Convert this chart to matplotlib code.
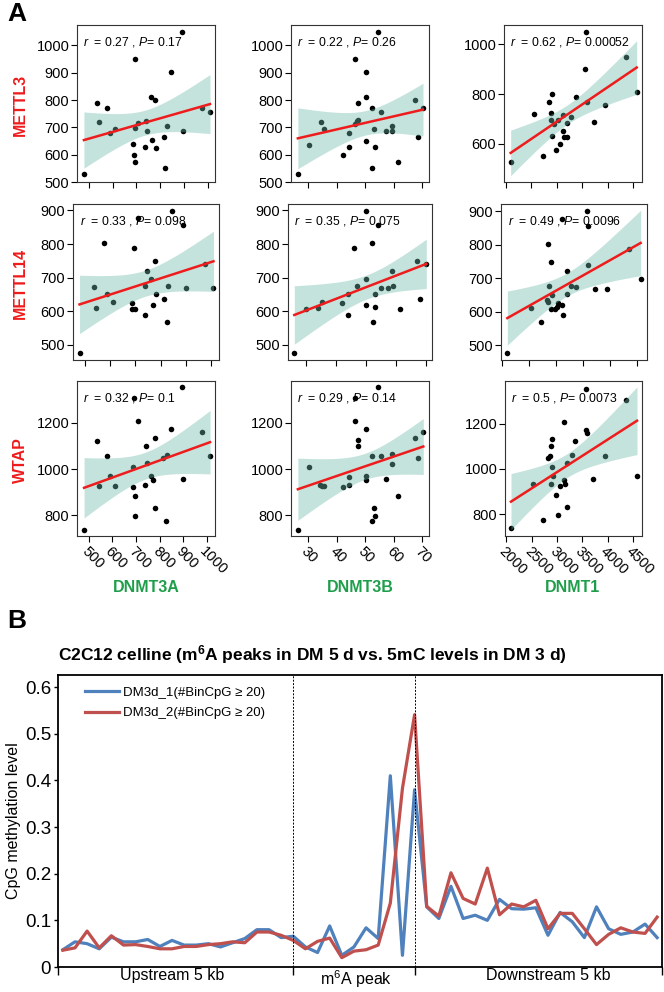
import numpy as np
import matplotlib.pyplot as plt

plt.rcParams['font.family'] = ['Liberation Sans', 'DejaVu Sans']
plt.rcParams['mathtext.fontset'] = 'custom'
plt.rcParams['mathtext.rm'] = 'Liberation Sans'
plt.rcParams['mathtext.it'] = 'Liberation Sans:italic'
plt.rcParams['mathtext.bf'] = 'Liberation Sans:bold'

# ---- panel A data (one list per panel) ----
row_names = ['METTL3', 'METTL14', 'WTAP']
col_names = ['DNMT3A', 'DNMT3B', 'DNMT1']

m3_3a_x = [480, 536, 543, 577, 591, 609, 686, 689, 692, 695, 695, 707, 735, 738, 745, 760, 767, 776, 780, 814, 821, 829, 843, 889, 896, 976, 1008]
m3_3a_y = [528, 791, 720, 771, 679, 694, 640, 599, 698, 574, 951, 716, 628, 724, 685, 812, 652, 801, 626, 665, 551, 704, 902, 1050, 685, 771, 756]
m3_3b_x = [26.3, 30.2, 34.3, 35.4, 42.2, 44.3, 44.3, 46.2, 46.2, 46.9, 47.3, 47.4, 50.2, 50.2, 50.2, 52.3, 52.4, 53.1, 53.2, 54.3, 55.3, 57.2, 59.3, 59.3, 61.3, 67.3, 68.3, 70.2]
m3_3b_y = [528, 634, 718, 694, 599, 679, 628, 951, 713, 722, 791, 726, 902, 811, 650, 771, 551, 695, 627, 1050, 756, 685, 704, 685, 574, 800, 665, 771]
m3_1_x = [2092, 2545, 2728, 2846, 2879, 2886, 2899, 2912, 2938, 2978, 3023, 3063, 3122, 3128, 3148, 3194, 3200, 3286, 3371, 3561, 3581, 3594, 3725, 3948, 4362, 4572]
m3_1_y = [526, 719, 552, 770, 723, 694, 633, 799, 680, 575, 694, 599, 714, 652, 629, 627, 683, 706, 790, 902, 1050, 770, 686, 754, 950, 810]

m14_3a_x = [477, 535, 544, 576, 588, 609, 687, 687, 695, 697, 711, 737, 740, 745, 761, 769, 779, 781, 815, 824, 831, 845, 889, 900, 979, 1011]
m14_3a_y = [475, 673, 611, 802, 650, 628, 626, 608, 787, 607, 878, 589, 676, 721, 697, 619, 750, 652, 637, 568, 676, 899, 856, 670, 741, 668]
m14_3b_x = [26.1, 30.1, 34.0, 35.2, 42.1, 44.1, 44.2, 46.2, 47.1, 49.9, 50.0, 50.0, 52.2, 52.3, 53.2, 53.2, 54.2, 55.2, 57.3, 58.9, 59.1, 61.4, 67.1, 68.2, 70.2]
m14_3b_y = [475, 607, 611, 628, 626, 588, 650, 787, 676, 697, 619, 899, 803, 568, 652, 612, 856, 668, 668, 721, 675, 608, 750, 637, 741]
m14_1_x = [2105, 2548, 2733, 2850, 2881, 2831, 2862, 2905, 2911, 2924, 2979, 3011, 3047, 3115, 3127, 3115, 3201, 3201, 3287, 3367, 3570, 3583, 3595, 3724, 3946, 4346, 4562]
m14_1_y = [476, 611, 570, 802, 676, 635, 628, 750, 609, 649, 609, 615, 627, 620, 590, 876, 723, 653, 677, 673, 900, 856, 740, 668, 668, 788, 697]

wtap_3a_x = [480, 535, 545, 577, 588, 611, 686, 689, 693, 696, 697, 709, 737, 740, 747, 763, 771, 778, 782, 815, 825, 832, 846, 893, 900, 980, 1013]
wtap_3a_y = [738, 1122, 928, 1056, 968, 928, 1009, 924, 1306, 882, 796, 1206, 932, 1099, 1027, 971, 951, 1132, 832, 1047, 774, 1062, 1173, 1354, 957, 1158, 1055]
wtap_3b_x = [26.3, 30.2, 34.1, 34.8, 35.5, 42.2, 44.3, 44.3, 46.2, 46.3, 47.3, 47.4, 50.1, 50.2, 50.2, 52.3, 52.4, 53.1, 53.2, 54.3, 55.4, 57.2, 59.3, 59.3, 61.3, 67.3, 68.3, 70.3]
wtap_3b_y = [738, 1009, 929, 927, 927, 924, 967, 932, 1306, 1206, 1124, 1099, 1173, 971, 951, 1056, 774, 832, 796, 1354, 1056, 957, 1063, 1023, 882, 1132, 1047, 1158]
wtap_1_x = [2092, 2531, 2728, 2820, 2853, 2879, 2886, 2905, 2905, 2925, 2978, 3023, 3056, 3128, 3135, 3148, 3200, 3200, 3286, 3364, 3568, 3594, 3581, 3719, 3948, 4362, 4578]
wtap_1_y = [738, 931, 773, 1048, 1055, 1100, 931, 1132, 1008, 967, 883, 797, 925, 953, 1206, 934, 831, 1027, 1063, 1122, 1173, 1159, 1353, 956, 1055, 1306, 970]

r_text = [['0.27', '0.22', '0.62'], ['0.33', '0.35', '0.49'], ['0.32', '0.29', '0.5']]
p_text = [['0.17', '0.26', '0.00052'], ['0.098', '0.075', '0.0096'], ['0.1', '0.14', '0.0073']]

col_ticks = [[500, 600, 700, 800, 900, 1000], [30, 40, 50, 60, 70], [2000, 2500, 3000, 3500, 4000, 4500]]
row_ticks = [[[500, 600, 700, 800, 900, 1000]] * 2 + [[600, 800, 1000]],
             [[500, 600, 700, 800, 900]] * 3,
             [[800, 1000, 1200]] * 3]

# ---- panel B data: CpG methylation profile, 50 bins ----
region_labels = ['Upstream 5 kb', 'm$^6$A peak', 'Downstream 5 kb']
dm3d_1 = [0.037, 0.054, 0.050, 0.039, 0.064, 0.054, 0.054, 0.059, 0.044, 0.057,
          0.047, 0.047, 0.050, 0.043, 0.052, 0.061, 0.080, 0.080, 0.063, 0.066,
          0.043, 0.031, 0.088, 0.025, 0.043, 0.084, 0.061, 0.410, 0.025, 0.380,
          0.129, 0.104, 0.173, 0.104, 0.111, 0.100, 0.145, 0.125, 0.124, 0.127,
          0.068, 0.117, 0.097, 0.063, 0.129, 0.082, 0.070, 0.075, 0.092, 0.063]
dm3d_2 = [0.036, 0.041, 0.077, 0.041, 0.067, 0.047, 0.048, 0.044, 0.039, 0.039,
          0.044, 0.044, 0.048, 0.050, 0.054, 0.052, 0.075, 0.075, 0.068, 0.057,
          0.039, 0.055, 0.062, 0.020, 0.034, 0.037, 0.047, 0.137, 0.383, 0.541,
          0.130, 0.109, 0.202, 0.147, 0.135, 0.212, 0.112, 0.135, 0.129, 0.143,
          0.082, 0.115, 0.115, 0.082, 0.048, 0.070, 0.084, 0.075, 0.072, 0.107]

panels = [[(m3_3a_x, m3_3a_y), (m3_3b_x, m3_3b_y), (m3_1_x, m3_1_y)],
          [(m14_3a_x, m14_3a_y), (m14_3b_x, m14_3b_y), (m14_1_x, m14_1_y)],
          [(wtap_3a_x, wtap_3a_y), (wtap_3b_x, wtap_3b_y), (wtap_1_x, wtap_1_y)]]

W, H = 664, 992
fig = plt.figure(figsize=(W / 100, H / 100), dpi=100)


def px_axes(l, t, r, b):
    return fig.add_axes([l / W, 1 - b / H, (r - l) / W, (b - t) / H])


# pixel boxes of the 9 small panels (left, top, right, bottom)
boxes = [[(77, 25, 215, 182), (291, 25, 429, 182), (504, 25, 642, 182)],
         [(73, 204, 219, 360), (288, 204, 432, 360), (501, 204, 647, 360)],
         [(77, 381, 215, 536), (291, 381, 429, 536), (505, 381, 642, 536)]]
xlims = [[(451, 1029), (23.9, 72.3), (1961, 4676)],
         [(451, 1033), (24.0, 72.1), (1988, 4679)],
         [(450, 1034), (23.9, 72.3), (1974, 4676)]]
ylims = [[(500, 1075), (500, 1075), (446, 1078)],
         [(455, 919), (455, 919), (456, 922)],
         [(711, 1380), (711, 1380), (703, 1389)]]

band_col = '#6dbba9'
for i in range(3):
    for j in range(3):
        ax = px_axes(*boxes[i][j])
        x = np.array(panels[i][j][0], float)
        y = np.array(panels[i][j][1], float)
        ax.scatter(x, y, s=16, color='black', zorder=2, linewidths=0)
        # linear fit with 95% confidence band
        b, a = np.polyfit(x, y, 1)
        n = len(x)
        xs = np.linspace(x.min(), x.max(), 100)
        fit = a + b * xs
        resid = y - (a + b * x)
        s = np.sqrt(np.sum(resid ** 2) / (n - 2))
        se = s * np.sqrt(1 / n + (xs - x.mean()) ** 2 / np.sum((x - x.mean()) ** 2))
        ax.fill_between(xs, fit - 2.06 * se, fit + 2.06 * se, color=band_col,
                        alpha=0.4, linewidth=0, zorder=3)
        ax.plot(xs, fit, color='#ee1c1c', lw=1.8, zorder=4)
        ax.set_xlim(*xlims[i][j])
        ax.set_ylim(*ylims[i][j])
        ax.set_xticks(col_ticks[j])
        ax.set_yticks(row_ticks[i][j])
        ax.tick_params(direction='out', length=4, width=0.8, labelsize=10.5, pad=1.5)
        if i < 2:
            ax.set_xticklabels([])
        else:
            ax.set_xticklabels([str(t) for t in col_ticks[j]], rotation=-45,
                               ha='left', va='top', rotation_mode='anchor')
            ax.tick_params(axis='x', pad=2)
        for sp in ax.spines.values():
            sp.set_linewidth(0.8)
            sp.set_color('#333333')
        ax.text(0.045, 0.89, r'$r$  = %s , $P$= %s' % (r_text[i][j], p_text[i][j]),
                transform=ax.transAxes, fontsize=8.8, va='center', ha='left', zorder=5)

# row and column labels
row_y = [105, 283, 460]
for name, yy in zip(row_names, row_y):
    fig.text(20 / W, 1 - yy / H, name, rotation=90, color='#ee1c1c', fontsize=11.5,
             fontweight='bold', ha='center', va='center')
col_x = [146, 360, 573]
for name, xx in zip(col_names, col_x):
    fig.text(xx / W, 1 - 587 / H, name, color='#1e9e4a', fontsize=11.5,
             fontweight='bold', ha='center', va='center')

fig.text(7 / W, 1 - 14 / H, 'A', fontsize=19, fontweight='bold', va='center', ha='left')
fig.text(7 / W, 1 - 621 / H, 'B', fontsize=19, fontweight='bold', va='center', ha='left')

# ---- panel B ----
axb = px_axes(58, 675, 662, 967)
bins = np.arange(len(dm3d_1))
axb.plot(bins, dm3d_1, color='#4f81bd', lw=2.3, label='DM3d_1(#BinCpG ≥ 20)')
axb.plot(bins, dm3d_2, color='#c0504d', lw=2.3, label='DM3d_2(#BinCpG ≥ 20)')
for xb in [19, 29]:
    axb.axvline(xb, color='black', ls=(0, (2, 1.5)), lw=0.7)
axb.set_xlim(-0.4, 49.4)
axb.set_ylim(0, 0.626)
axb.set_yticks([0, 0.1, 0.2, 0.3, 0.4, 0.5, 0.6])
axb.set_yticklabels(['0', '0.1', '0.2', '0.3', '0.4', '0.5', '0.6'])
axb.set_xticks([-0.4, 19, 29, 49.4])
axb.set_xticklabels([])
axb.set_xticks([9, 24.2, 40], minor=True)
axb.set_xticklabels(region_labels, minor=True)
axb.tick_params(axis='x', which='major', length=6, width=1)
axb.tick_params(axis='x', which='minor', length=0, labelsize=11.5, pad=1)
axb.tick_params(axis='y', length=3, width=1, labelsize=13.5, pad=2)
for sp in axb.spines.values():
    sp.set_linewidth(1.3)
axb.set_ylabel('CpG methylation level', fontsize=11.5, labelpad=3)
axb.legend(loc='upper left', bbox_to_anchor=(0.025, 1.0), frameon=False,
           fontsize=9.5, handlelength=2.6, handletextpad=0.3, labelspacing=0.6)
fig.text(58 / W, 1 - 655 / H,
         r'C2C12 celline (m$^{\mathbf{6}}$A peaks in DM 5 d vs. 5mC levels in DM 3 d)',
         fontsize=12.5, fontweight='bold', ha='left', va='center')

fig.savefig('out.png', dpi=100)
